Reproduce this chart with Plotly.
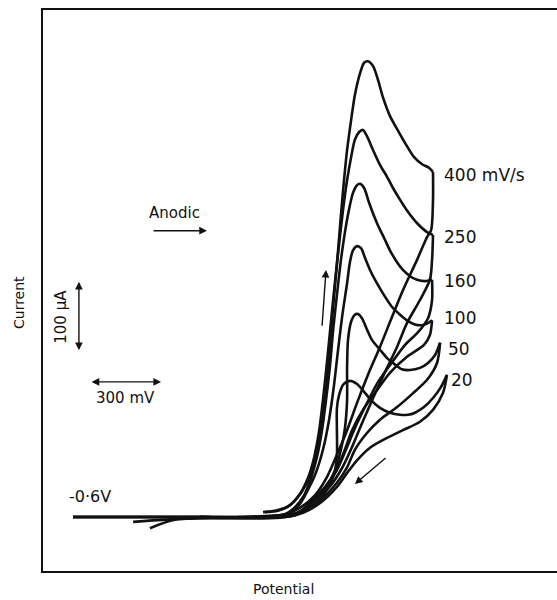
import plotly.graph_objects as go

# Cyclic voltammograms at six scan rates; potential in mV, current in uA.
scan_rates = ["400 mV/s", "250", "160", "100", "50", "20"]

# 400 mV/s
fwd_400_E = [203, 253, 304, 346, 384, 414, 435, 452, 469, 482, 494, 507, 520, 532, 545, 558,
             575, 591, 613, 630, 646, 668, 689, 710, 739, 773, 807, 841, 875, 904, 921]
fwd_400_I = [7, 9, 14, 27, 46, 71, 103, 139, 181, 231, 281, 331, 381, 431, 481, 524,
             567, 603, 634, 649, 651, 644, 624, 599, 573, 552, 532, 514, 504, 499, 493]
rev_400_E = [921, 921, 913, 896, 853, 794, 748, 697, 646, 600, 558, 515, 473, 422, 359, 296,
             106, -169, -275]
rev_400_I = [493, 453, 410, 400, 367, 324, 286, 243, 203, 163, 124, 89, 57, 31, 13, 4,
             0, -4, -16]

# 250 mV/s
fwd_250_E = [211, 266, 317, 359, 393, 418, 439, 456, 473, 490, 507, 524, 541, 558, 575, 591,
             609, 625, 642, 668, 697, 727, 752, 782, 815, 853, 896, 921]
fwd_250_I = [7, 9, 17, 33, 56, 84, 121, 167, 221, 279, 336, 389, 439, 481, 514, 539,
             550, 553, 544, 524, 503, 486, 470, 453, 436, 420, 407, 403]
rev_250_E = [921, 917, 908, 866, 811, 769, 718, 668, 621, 579, 537, 486, 422, 346, 190, -169, -346]
rev_250_I = [403, 367, 339, 310, 277, 243, 207, 170, 134, 100, 70, 44, 24, 6, 0, -3, -7]

# 160 mV/s
fwd_160_E = [-600, -63, 232, 296, 338, 376, 406, 431, 452, 469, 486, 499, 515, 532, 549, 566,
             583, 600, 613, 630, 651, 684, 714, 739, 769, 794, 824, 853, 887, 917]
fwd_160_I = [0, 0, 1, 4, 14, 31, 56, 86, 124, 167, 217, 267, 317, 367, 407, 439,
             463, 474, 476, 470, 449, 420, 399, 381, 364, 353, 344, 339, 337, 339]
rev_160_E = [917, 917, 900, 858, 803, 748, 689, 638, 591, 553, 515, 469, 410, 346, 232, -63]
rev_160_I = [339, 310, 284, 264, 246, 221, 193, 160, 127, 96, 67, 43, 21, 4, 0, 0]

# 100 mV/s
fwd_100_E = [-600, -63, 253, 313, 355, 393, 427, 456, 482, 503, 520, 537, 558, 570, 583, 600,
             617, 634, 659, 684, 714, 748, 782, 811, 845, 875, 900, 917]
fwd_100_I = [0, 0, 1, 6, 17, 39, 64, 96, 139, 189, 239, 286, 334, 364, 381, 387,
             384, 370, 350, 334, 317, 300, 289, 281, 275, 274, 277, 281]
rev_100_E = [917, 908, 883, 811, 739, 684, 625, 579, 545, 511, 465, 401, 346, 232, -63]
rev_100_I = [281, 260, 246, 229, 206, 181, 153, 124, 93, 67, 43, 21, 4, 0, 0]

# 50 mV/s
fwd_50_E = [-600, -63, 275, 325, 372, 422, 469, 507, 532, 549, 558, 558, 562, 575, 591, 604,
            621, 638, 663, 697, 727, 756, 790, 824, 866, 900, 929, 951]
fwd_50_I = [0, 0, 0, 3, 10, 23, 41, 67, 96, 127, 167, 214, 253, 279, 289, 290,
            284, 271, 253, 239, 227, 219, 211, 210, 213, 220, 231, 249]
rev_50_E = [951, 938, 896, 837, 769, 697, 642, 591, 558, 515, 444, 359, 232, -63]
rev_50_I = [249, 220, 196, 177, 157, 139, 120, 96, 71, 49, 24, 6, 0, 0]

# 20 mV/s
fwd_20_E = [-600, -63, 296, 342, 384, 431, 473, 503, 515, 515, 515, 524, 541, 562, 579, 600,
            625, 659, 697, 739, 782, 815, 845, 883, 921, 955, 980]
fwd_20_I = [0, 0, 0, 3, 10, 21, 39, 61, 88, 124, 155, 174, 189, 194, 194, 190,
            181, 167, 156, 149, 146, 146, 149, 157, 170, 186, 203]
rev_20_E = [980, 963, 921, 866, 794, 727, 655, 600, 558, 515, 444, 372, 275, -63]
rev_20_I = [203, 177, 153, 136, 124, 113, 99, 81, 63, 43, 20, 6, -1, -1]

# Label anchor per curve: (potential, current)
label_E = [960, 960, 960, 960, 977, 990]
label_I = [489, 400, 337, 284, 240, 196]

# Scale bars
bar_mV = 300
bar_uA = 100
start_potential_label = "-0·6V"

INK = "#111111"
FONT = "DejaVu Sans"

segments = [
    (fwd_400_E, fwd_400_I), (rev_400_E, rev_400_I),
    (fwd_250_E, fwd_250_I), (rev_250_E, rev_250_I),
    (fwd_160_E, fwd_160_I), (rev_160_E, rev_160_I),
    (fwd_100_E, fwd_100_I), (rev_100_E, rev_100_I),
    (fwd_50_E, fwd_50_I), (rev_50_E, rev_50_I),
    (fwd_20_E, fwd_20_I), (rev_20_E, rev_20_I),
]

fig = go.Figure()
for E, I in segments:
    fig.add_trace(go.Scatter(
        x=E, y=I, mode="lines",
        line=dict(color=INK, width=2.6, shape="spline", smoothing=0.8),
        hoverinfo="skip",
    ))

annotations = []

# Scan-rate labels at the switching potentials
for text, xe, yi in zip(scan_rates, label_E, label_I):
    annotations.append(dict(x=xe, y=yi, xref="x", yref="y", text=text, showarrow=False,
                            xanchor="left", yanchor="middle",
                            font=dict(family=FONT, size=17, color=INK)))

# Start potential
annotations.append(dict(x=-625, y=29, xref="x", yref="y", text=start_potential_label,
                        showarrow=False, xanchor="left", yanchor="middle",
                        font=dict(family=FONT, size=16, color=INK)))

# Scan direction
annotations.append(dict(x=-173, y=434, xref="x", yref="y", text="Anodic", showarrow=False,
                        xanchor="center", yanchor="middle",
                        font=dict(family=FONT, size=15, color=INK)))
annotations.append(dict(x=-34, y=409, ax=-266, ay=409, xref="x", yref="y", axref="x", ayref="y",
                        text="", showarrow=True, arrowhead=2, arrowsize=1.1, arrowwidth=1.4,
                        arrowcolor=INK))

# Sweep direction arrows on the curves
annotations.append(dict(x=469, y=353, ax=452, ay=271, xref="x", yref="y", axref="x", ayref="y",
                        text="", showarrow=True, arrowhead=2, arrowsize=1.1, arrowwidth=1.4,
                        arrowcolor=INK))
annotations.append(dict(x=591, y=47, ax=727, ay=86, xref="x", yref="y", axref="x", ayref="y",
                        text="", showarrow=True, arrowhead=2, arrowsize=1.1, arrowwidth=1.4,
                        arrowcolor=INK))

# Current scale bar (vertical, double-headed)
bar_x = -575
bar_y0 = 236
annotations.append(dict(x=bar_x, y=bar_y0 + bar_uA, ax=bar_x, ay=bar_y0,
                        xref="x", yref="y", axref="x", ayref="y", text="", showarrow=True,
                        arrowhead=2, startarrowhead=2, arrowside="end+start",
                        arrowsize=1.1, startarrowsize=1.1, arrowwidth=1.4, arrowcolor=INK))
annotations.append(dict(x=-651, y=bar_y0 + bar_uA / 2, xref="x", yref="y",
                        text=f"{bar_uA} μA", showarrow=False, textangle=-90,
                        xanchor="center", yanchor="middle",
                        font=dict(family=FONT, size=15, color=INK)))

# Potential scale bar (horizontal, double-headed)
bar_E0 = -528
bar_Iy = 193
annotations.append(dict(x=bar_E0 + bar_mV, y=bar_Iy, ax=bar_E0, ay=bar_Iy,
                        xref="x", yref="y", axref="x", ayref="y", text="", showarrow=True,
                        arrowhead=2, startarrowhead=2, arrowside="end+start",
                        arrowsize=1.1, startarrowsize=1.1, arrowwidth=1.4, arrowcolor=INK))
annotations.append(dict(x=bar_E0 + bar_mV / 2, y=170, xref="x", yref="y",
                        text=f"{bar_mV} mV", showarrow=False,
                        xanchor="center", yanchor="middle",
                        font=dict(family=FONT, size=15, color=INK)))

# Axis titles, placed outside the plotting area
annotations.append(dict(x=-0.0467, y=0.4795, xref="paper", yref="paper", text="Current",
                        showarrow=False, textangle=-90, xanchor="center", yanchor="middle",
                        font=dict(family=FONT, size=14, color=INK)))
annotations.append(dict(x=0.467, y=-0.032, xref="paper", yref="paper", text="Potential",
                        showarrow=False, xanchor="center", yanchor="middle", borderpad=0,
                        font=dict(family=FONT, size=14, color=INK)))

fig.update_layout(
    width=557, height=600,
    margin=dict(l=43, r=0, t=10, b=29, pad=0),
    paper_bgcolor="white", plot_bgcolor="white",
    showlegend=False,
    annotations=annotations,
    xaxis=dict(range=[-726.75, 1444.9], showline=True, linewidth=2, linecolor=INK, mirror=True,
               showgrid=False, zeroline=False, showticklabels=False, ticks="", fixedrange=True),
    yaxis=dict(range=[-77.14, 724.3], showline=True, linewidth=2, linecolor=INK, mirror=False,
               showgrid=False, zeroline=False, showticklabels=False, ticks="", fixedrange=True),
)

fig.write_html("out.html")
